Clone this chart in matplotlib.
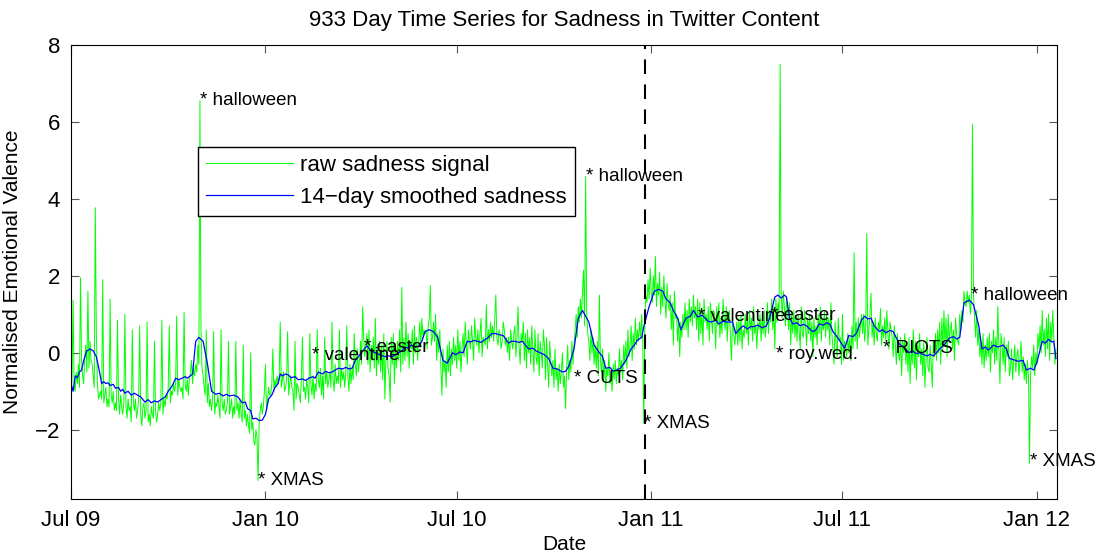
import numpy as np
import matplotlib
matplotlib.use("Agg")
import matplotlib.pyplot as plt

plt.rcParams["font.family"] = ["Liberation Sans", "DejaVu Sans"]

START = np.datetime64("2009-07-01")

# daily raw sadness, one row per week starting 2009-07-01
RAW_SADNESS = [
    -1.3, -0.6, 1.37, -0.9, -1.0, -0.5, -0.8,
    -0.3, -0.9, 1.95, -0.2, -0.6, -0.8, -0.1,
    0.2, -0.5, 1.6, -0.4, 0.3, -0.2, -0.3,
    -0.6, -0.9, 3.77, 0.5, -0.8, -1.2, -1.1,
    -1.0, -1.2, 1.9, -1.3, -1.1, -0.9, -1.4,
    -1.2, -1.4, 1.4, -1.1, -1.3, -1.0, -1.5,
    -1.3, -1.5, 0.85, -1.2, -1.6, -1.1, -1.4,
    -1.6, -1.3, 1.0, -1.4, -1.7, -1.2, -1.5,
    -1.4, -1.8, 0.6, -1.3, -1.5, -1.2, -1.7,
    -1.5, -1.2, 0.7, -1.6, -1.9, -1.4, -1.3,
    -1.7, -1.5, 0.8, -1.8, -1.6, -1.9, -1.4,
    -1.6, -1.7, 0.3, -1.5, -1.8, -1.6, -1.3,
    -1.5, -1.3, 0.85, -1.6, -1.2, -1.4, -1.1,
    -1.2, -0.9, 0.7, -1.3, -1.0, -1.1, -0.8,
    -1.0, -0.8, 0.95, -1.1, -0.7, -0.9, -1.0,
    -0.9, -1.2, 1.05, -0.8, -1.0, -0.7, -1.1,
    -0.7, -0.5, -0.2, -0.8, -0.4, -0.6, -0.3,
    -0.5, 0.2, -0.3, 6.55, 0.6, -0.4, -0.6,
    -0.9, -1.1, 0.6, -1.3, -0.8, -1.4, -1.2,
    -1.5, -1.2, 0.55, -1.6, -1.3, -1.4, -1.1,
    -1.4, -1.7, 0.6, -1.3, -1.5, -1.2, -1.6,
    -1.5, -1.3, 0.3, -1.6, -1.4, -1.2, -1.7,
    -1.4, -1.6, 0.3, -1.5, -1.3, -1.7, -1.2,
    -1.6, -1.8, 0.2, -1.7, -1.5, -1.9, -1.6,
    -1.9, -2.1, 0.0, -2.0, -1.8, -2.3, -2.4,
    -2.0, -2.2, -3.32, -1.9, -1.5, -1.3, -1.6,
    -1.4, -1.0, -0.3, -1.5, -1.2, -0.9, -1.1,
    -1.1, -0.8, 0.1, -1.0, -0.7, -0.9, -0.6,
    -0.8, -0.6, 0.8, -0.9, -0.7, -0.5, -1.0,
    -0.9, -0.7, 0.55, -1.1, -0.8, -0.6, -0.9,
    -1.0, -1.5, 0.3, -1.2, -0.8, -0.9, -1.1,
    -1.3, -0.6, 0.4, -1.0, -0.9, -1.2, -0.7,
    -0.9, -1.3, 0.5, -0.8, -1.1, -0.6, -1.2,
    -0.8, -1.0, 0.6, -0.7, -0.9, -0.4, -1.1,
    -0.6, -1.2, 0.4, -0.8, -0.5, -0.9, -0.7,
    -0.5, -0.9, 0.8, -0.7, -1.0, -0.3, -0.8,
    -0.6, -0.8, 0.6, -0.9, -0.4, -0.7, -0.5,
    -0.9, -0.5, 0.7, -0.6, -1.0, -0.3, -0.8,
    -0.4, -0.7, 0.5, -0.3, -0.6, 0.1, -0.5,
    -0.2, 0.3, -0.3, 1.2, 0.4, -0.1, 0.2,
    0.5, -0.3, 0.6, -0.5, 0.2, -0.2, 0.4,
    -0.4, 0.9, -0.6, 0.1, -0.3, 0.3, -0.5,
    0.2, -0.7, 0.5, -1.2, -0.2, 0.3, -0.4,
    -0.6, -1.28, 0.4, -0.3, 0.5, -0.8, 0.2,
    -0.4, 0.3, -0.2, 0.6, -0.5, 1.7, -0.3,
    0.4, -0.2, 0.8, -0.1, 0.5, -0.4, 0.3,
    0.1, 0.6, -0.3, 0.7, 0.0, 0.4, -0.2,
    0.3, 0.8, 0.2, 0.9, 0.4, 0.6, 0.5,
    0.6, 0.1, 0.7, 0.9, 1.75, 0.2, 0.4,
    0.8, 0.3, 1.0, -0.2, 0.5, 0.0, 0.6,
    -0.4, -1.1, 0.1, -0.5, -0.2, -0.9, 0.2,
    -0.5, 0.3, -0.6, 0.1, -0.3, 0.4, -0.2,
    0.2, -0.4, 0.6, -0.2, 0.3, -0.5, 0.1,
    0.5, -0.1, 0.8, 0.2, -0.3, 0.6, 0.3,
    0.1, 0.7, 0.3, -0.2, 0.9, 0.4, 0.2,
    0.6, 0.0, 0.5, 0.9, -0.1, 0.4, 0.3,
    0.2, 1.25, 0.1, 0.6, 0.3, 0.8, 0.4,
    0.7, 0.3, 0.9, 1.5, 0.4, 0.2, 0.6,
    0.5, 0.1, 0.3, 0.8, 0.6, 0.2, 0.4,
    0.0, 0.4, -0.2, 0.6, 0.3, 0.1, 0.5,
    0.7, -0.1, 0.4, 1.2, 0.2, -0.3, 0.5,
    0.3, 0.8, -0.2, 0.5, -0.4, 0.6, 0.0,
    0.4, -0.3, 0.7, 0.1, -0.5, 0.6, -0.1,
    -0.3, 0.5, -0.6, 0.3, 0.0, -0.4, 0.6,
    0.2, -0.7, 0.4, -0.3, -0.9, 0.3, -0.2,
    -0.6, -0.2, -0.9, 0.1, -0.7, -0.4, -1.0,
    -0.3, -0.8, -0.5, 0.0, -0.9, -0.6, -1.45,
    -0.4, 0.2, -0.7, -0.2, -0.5, 0.3, -0.3,
    0.2, 0.6, 1.0, 0.4, 1.2, 0.8, 1.4,
    0.9, 1.6, 2.15, 0.7, 4.58, 1.0, 0.5,
    0.3, -0.2, 0.6, 0.0, 0.4, -0.3, 0.2,
    -0.4, 0.3, -0.6, 1.5, -0.2, -0.5, 0.1,
    -0.7, -0.2, -1.0, -0.4, -0.6, 0.0, -0.8,
    -0.5, -1.0, -0.3, -0.7, -0.2, -0.8, -0.4,
    -0.6, 0.1, -0.5, -0.2, -0.7, 0.2, -0.3,
    0.3, -0.4, 0.6, -0.1, 0.2, 0.7, -0.2,
    0.5, 0.1, 0.9, 0.2, 0.6, 0.3, 0.8,
    0.4, 1.0, 0.3, -1.83, 0.9, 1.5, 1.3,
    1.9, 1.4, 2.2, 1.6, 1.3, 2.0, 1.5,
    2.5, 1.2, 1.8, 1.5, 2.1, 1.0, 1.7,
    1.2, 2.0, 1.4, 0.9, 1.8, 1.3, 1.1,
    1.5, 0.6, 1.3, 0.2, 1.6, 0.9, 1.0,
    0.3, 0.9, -0.1, 0.8, 0.4, 1.0, 0.6,
    1.3, 0.6, 1.1, 0.4, 1.4, 0.8, 1.2,
    0.7, 1.5, 0.9, 1.2, 0.6, 1.4, 0.3,
    1.3, 0.5, 1.1, 0.2, 1.4, 0.8, 1.0,
    0.6, 1.2, 0.3, 1.3, 0.9, 0.5, 1.1,
    1.0, 0.1, 1.2, 0.7, 1.3, 0.4, 0.9,
    0.5, 1.4, 0.9, 0.6, 1.2, 0.3, 1.0,
    1.1, 0.4, -0.2, 0.9, 0.6, 0.2, 0.5,
    0.8, 0.2, 0.9, 0.3, 1.0, 0.1, 0.6,
    0.4, 1.0, 0.5, 0.9, 0.2, 1.1, 0.6,
    0.9, 0.3, 1.2, 0.5, 0.7, 0.1, 0.8,
    0.6, 1.0, 0.3, 0.9, 0.5, 1.1, 0.4,
    0.7, 1.3, 0.5, 1.1, 0.8, 1.4, 0.6,
    1.2, 0.1, 1.4, 0.8, 1.3, 1.0, 7.5,
    1.5, 0.9, 1.6, 1.2, 0.7, 1.4, 1.1,
    0.6, 1.3, 0.2, 1.0, 0.5, 1.1, 0.4,
    0.9, 0.3, 1.0, 0.6, 0.1, 1.2, 0.5,
    0.4, 1.1, 0.7, 0.2, 0.9, 0.5, 1.0,
    0.3, 0.8, -0.1, 0.9, 0.4, 0.7, 0.2,
    1.0, 0.5, 1.2, 0.3, 0.9, 0.6, 1.1,
    0.4, 1.0, 0.6, 0.9, 0.2, 1.3, 0.5,
    0.1, -0.3, 0.8, 0.2, -0.1, 0.9, 0.3,
    0.4, -0.3, 1.0, -0.2, 0.3, 0.1, -0.1,
    0.5, 0.0, 0.4, -0.2, 0.7, 0.1, 2.6,
    0.3, 0.8, 0.1, 0.9, 0.4, 0.7, 1.0,
    0.5, 1.0, 0.3, 0.7, 3.1, 0.2, 0.6,
    1.0, 1.55, 0.4, 0.8, 0.2, 0.9, 0.5,
    0.3, 0.8, 0.6, 1.15, 0.2, 0.7, 0.4,
    0.9, 0.3, 1.1, 0.5, 0.1, 0.8, 0.6,
    0.4, -0.1, 0.7, 0.2, -0.3, 0.5, 0.0,
    -0.2, 0.4, -0.6, 0.3, 0.0, 0.5, -0.3,
    0.2, -0.5, 0.4, -0.8, 0.1, -0.3, 0.6,
    -0.4, 0.3, -0.7, 0.2, -0.1, 0.5, -0.3,
    0.1, -0.6, 0.3, -0.9, -0.2, 0.4, -0.4,
    -0.5, 0.2, -0.3, -0.9, 0.3, -0.1, 0.5,
    -0.2, 0.6, 0.0, 0.8, -0.3, 0.9, 0.1,
    1.1, 0.2, 0.9, -0.1, 1.0, 0.3, 0.6,
    0.8, 0.1, 0.6, -0.2, 0.9, 0.5, 0.3,
    0.2, 1.0, 0.6, 1.1, 0.8, 1.6, 1.3,
    1.2, 1.6, 1.3, 1.5, 1.0, 1.4, 5.94,
    1.5, 0.9, 0.4, 1.1, 0.2, 0.6, -0.1,
    0.3, -0.3, 0.5, -0.4, 0.2, -0.2, 0.4,
    -0.1, 0.5, -0.5, 0.3, 0.0, 0.6, -0.3,
    0.4, -0.2, 1.2, 0.1, -0.8, 0.5, 0.2,
    -0.3, 0.4, -0.5, 0.2, -0.1, 0.3, -0.6,
    -0.4, 0.1, -0.7, -0.2, 0.2, -0.5, -0.1,
    0.1, -0.6, -0.2, 0.3, -0.5, -0.1, -0.7,
    -0.3, -0.8, -0.2, -0.6, -2.87, -0.5, -0.1,
    -0.4, 0.2, -0.6, 0.0, -0.3, 0.5, 0.1,
    0.7, 0.0, 1.1, 0.2, 0.6, -0.1, 0.9,
    0.1, 1.0, -0.2, 0.8, 0.3, 1.1, 0.4,
    -0.3, 0.1,
]

# 14-day smoothed curve, read at day offsets from 2009-07-01
SMOOTH_DAY = [
    0, 2, 4, 6, 8, 10, 12, 15, 18, 21, 24, 27, 29, 31, 33, 35, 37, 40, 42,
    45, 47, 49, 51, 54, 57, 60, 63, 66, 70, 73, 76, 79, 82, 86, 89, 92, 96,
    99, 102, 105, 108, 110, 113, 115, 118, 121, 125, 129, 133, 137, 140,
    144, 147, 150, 154, 158, 162, 165, 167, 170, 172, 175, 178, 181, 184,
    187, 190, 193, 196, 198, 200, 203, 206, 208, 212, 215, 219, 222, 225,
    229, 231, 234, 238, 241, 244, 247, 250, 253, 257, 260, 263, 266, 269,
    272, 276, 280, 284, 288, 292, 297, 300, 304, 307, 310, 313, 316, 319,
    322, 326, 329, 332, 335, 339, 343, 347, 352, 356, 361, 364, 368, 371,
    375, 378, 381, 385, 388, 392, 395, 398, 402, 405, 409, 414, 417, 420,
    424, 427, 430, 433, 437, 440, 444, 448, 452, 456, 460, 465, 468, 471,
    476, 480, 484, 487, 490, 495, 500, 503, 506, 510, 513, 516, 520, 525,
    530, 533, 536, 540, 542, 547, 552, 556, 560, 563, 567, 570, 574, 577,
    582, 586, 589, 593, 597, 600, 603, 606, 610, 613, 617, 620, 626, 629,
    632, 636, 640, 643, 646, 650, 654, 658, 661, 666, 669, 672, 675, 677,
    680, 683, 687, 690, 693, 696, 699, 702, 705, 708, 712, 715, 718, 721,
    724, 727, 732, 736, 740, 743, 748, 751, 754, 757, 760, 765, 768, 771,
    775, 778, 784, 788, 793, 796, 800, 803, 807, 810, 813, 816, 819, 822,
    826, 831, 835, 838, 841, 845, 850, 854, 859, 862, 865, 868, 873, 877,
    882, 885, 888, 892, 896, 901, 904, 908, 911, 914, 919, 922, 925, 928,
    930, 932,
]
SMOOTH_VAL = [
    -0.8, -1.0, -0.6, -0.65, -0.5, -0.45, -0.2, 0.05, 0.1, 0.05, -0.1,
    -0.5, -0.8, -0.75, -0.8, -0.78, -0.85, -0.82, -0.92, -0.9, -1.0, -0.95,
    -1.05, -1.0, -1.1, -1.05, -1.1, -1.15, -1.28, -1.22, -1.3, -1.25, -1.28,
    -1.2, -1.15, -1.0, -0.85, -0.66, -0.7, -0.66, -0.62, -0.66, -0.6, -0.55,
    0.3, 0.4, 0.3, -0.27, -1.0, -1.08, -1.05, -1.12, -1.08, -1.12, -1.1,
    -1.15, -1.3, -1.28, -1.45, -1.5, -1.72, -1.7, -1.76, -1.75, -1.6, -1.2,
    -1.1, -0.9, -0.8, -0.55, -0.6, -0.55, -0.58, -0.65, -0.62, -0.7, -0.68,
    -0.72, -0.66, -0.62, -0.66, -0.5, -0.55, -0.48, -0.52, -0.5, -0.45,
    -0.4, -0.42, -0.38, -0.42, -0.4, -0.2, -0.1, 0.05, 0.18, 0.05, 0.0,
    -0.05, -0.1, -0.08, -0.1, -0.05, 0.0, 0.05, 0.15, 0.12, 0.2, 0.15,
    0.18, 0.3, 0.55, 0.6, 0.55, 0.4, -0.2, -0.27, 0.0, -0.05, 0.02, 0.0,
    0.3, 0.28, 0.32, 0.3, 0.27, 0.35, 0.4, 0.5, 0.5, 0.47, 0.45, 0.25, 0.3,
    0.3, 0.27, 0.3, 0.2, 0.1, 0.12, 0.05, 0.0, -0.05, -0.15, -0.4, -0.42,
    -0.5, -0.48, -0.35, 0.1, 0.9, 1.1, 0.95, 0.8, 0.2, 0.0, -0.1, -0.4,
    -0.38, -0.48, -0.45, -0.4, -0.2, 0.1, 0.2, 0.33, 0.4, 0.68, 1.2, 1.6,
    1.65, 1.6, 1.4, 1.3, 1.1, 0.9, 0.6, 0.9, 0.95, 1.1, 0.93, 0.98, 0.9,
    0.82, 0.8, 0.85, 0.75, 0.82, 0.8, 0.8, 0.5, 0.6, 0.7, 0.62, 0.68, 0.68,
    0.72, 0.65, 0.7, 0.9, 1.45, 1.5, 1.42, 1.5, 1.45, 0.9, 0.75, 0.78, 0.7,
    0.74, 0.7, 0.62, 0.55, 0.6, 0.75, 0.72, 0.78, 0.75, 0.55, 0.45, 0.33,
    0.12, 0.45, 0.42, 0.5, 0.85, 0.95, 0.88, 0.9, 0.7, 0.55, 0.6, 0.52,
    0.58, 0.55, 0.22, 0.15, 0.0, 0.05, -0.02, 0.0, -0.05, -0.08, -0.04,
    -0.08, 0.0, 0.1, 0.2, 0.38, 0.42, 0.36, 0.4, 1.3, 1.37, 1.25, 0.7, 0.1,
    0.15, 0.07, 0.2, 0.15, 0.2, 0.1, -0.15, -0.18, -0.22, -0.2, -0.45,
    -0.4, -0.45, -0.25, 0.3, 0.25, 0.35, 0.28, 0.3, -0.15,
]

EVENT_DATES = [
    "2009-10-31", "2009-12-25", "2010-02-14", "2010-04-04", "2010-10-31",
    "2010-10-20", "2010-12-25", "2011-02-14", "2011-04-24", "2011-04-29",
    "2011-08-08", "2011-10-31", "2011-12-25",
]
EVENT_VALUES = [6.55, -3.32, -0.07, 0.14, 4.59, -0.66, -1.83, 0.94, 0.98,
                -0.05, 0.12, 1.5, -2.82]
EVENT_LABELS = ["* halloween", "* XMAS", "* valentine", "* easter",
                "* halloween", "* CUTS", "* XMAS", "* valentine", "* easter",
                "* roy.wed.", "* RIOTS", "* halloween", "* XMAS"]

SPLIT_DATE = "2010-12-26"
X_TICKS = ["2009-07-01", "2010-01-01", "2010-07-01", "2011-01-01",
           "2011-07-01", "2012-01-01"]
X_TICK_LABELS = ["Jul 09", "Jan 10", "Jul 10", "Jan 11", "Jul 11", "Jan 12"]
Y_TICKS = [-2, 0, 2, 4, 6, 8]


def main():
    raw_dates = START + np.arange(len(RAW_SADNESS))
    smooth_dates = START + np.array(SMOOTH_DAY)

    fig = plt.figure(figsize=(10.99, 5.57), dpi=100)
    ax = fig.add_axes([71 / 1099, 1 - 499 / 557, 986 / 1099, 454 / 557])

    ax.plot(raw_dates, RAW_SADNESS, color=(0, 1, 0), lw=0.7,
            label="raw sadness signal")
    ax.plot(smooth_dates, SMOOTH_VAL, color=(0, 0, 1), lw=0.9,
            label="14\u2212day smoothed sadness")
    ax.axvline(np.datetime64(SPLIT_DATE), color="k", lw=1.5, ls=(0, (7, 5)))

    for d, v, lab in zip(EVENT_DATES, EVENT_VALUES, EVENT_LABELS):
        ax.text(np.datetime64(d), v, lab, fontsize=13.5, ha="left",
                va="center")

    ax.set_xlim(START, np.datetime64("2012-01-20"))
    ax.set_ylim(-3.8, 8)
    ax.set_xticks([np.datetime64(t) for t in X_TICKS])
    ax.set_xticklabels(X_TICK_LABELS)
    ax.set_yticks(Y_TICKS)
    ax.tick_params(direction="in", top=True, right=True, length=6,
                   labelsize=16, pad=8, color="#555555")

    ax.set_title("933 Day Time Series for Sadness in Twitter Content",
                 fontsize=16, pad=14)
    ax.set_xlabel("Date", fontsize=15, labelpad=3)
    ax.set_ylabel("Normalised Emotional Valence", fontsize=15, labelpad=9)

    leg = ax.legend(loc="upper left", bbox_to_anchor=(0.129, 0.775),
                    fontsize=16, handlelength=3.9, handletextpad=0.35,
                    borderpad=0.35, labelspacing=0.5, fancybox=False,
                    borderaxespad=0)
    leg.get_frame().set_edgecolor("k")
    leg.get_frame().set_linewidth(1.0)
    leg.get_frame().set_alpha(1)

    fig.savefig("out.png", dpi=100)


if __name__ == "__main__":
    main()
